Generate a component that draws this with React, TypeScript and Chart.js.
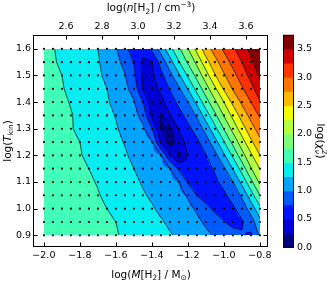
import { useEffect, useRef } from "react";
import { Chart, registerables } from "chart.js";
Chart.register(...registerables);

// grid of the fit: log M[H2] (columns) and log T_kin (rows)
const massGrid = [-2.0, -1.95, -1.9, -1.85, -1.8, -1.75, -1.7, -1.65, -1.6, -1.55, -1.5, -1.45, -1.4, -1.35, -1.3, -1.25, -1.2, -1.15, -1.1, -1.05, -1.0, -0.95, -0.9, -0.85, -0.8];
const tempGrid = [0.9, 0.95, 1.0, 1.05, 1.1, 1.15, 1.2, 1.25, 1.3, 1.35, 1.4, 1.45, 1.5, 1.55, 1.6];

// log(chi^2_nu) along each row of the grid
const chiT090 = [1.64, 1.62, 1.60, 1.59, 1.57, 1.56, 1.54, 1.52, 1.51, 1.48, 1.44, 1.39, 1.35, 1.31, 1.27, 1.21, 1.16, 1.10, 1.04, 0.98, 0.91, 0.84, 0.77, 0.70, 1.05];
const chiT095 = [1.63, 1.61, 1.60, 1.58, 1.57, 1.55, 1.53, 1.52, 1.50, 1.45, 1.41, 1.36, 1.31, 1.27, 1.21, 1.16, 1.10, 1.04, 0.97, 0.87, 0.76, 0.68, 0.72, 0.89, 1.17];
const chiT100 = [1.63, 1.61, 1.59, 1.57, 1.56, 1.54, 1.52, 1.50, 1.46, 1.41, 1.36, 1.32, 1.27, 1.21, 1.16, 1.10, 1.05, 0.97, 0.82, 0.70, 0.63, 0.71, 0.86, 1.10, 1.43];
const chiT105 = [1.62, 1.60, 1.58, 1.56, 1.55, 1.53, 1.51, 1.47, 1.42, 1.37, 1.32, 1.27, 1.22, 1.16, 1.11, 1.05, 0.98, 0.74, 0.65, 0.64, 0.71, 0.83, 1.04, 1.38, 1.75];
const chiT110 = [1.62, 1.60, 1.58, 1.56, 1.54, 1.52, 1.49, 1.44, 1.39, 1.34, 1.29, 1.23, 1.18, 1.12, 1.06, 1.00, 0.72, 0.59, 0.64, 0.71, 0.81, 0.99, 1.32, 1.68, 2.05];
const chiT115 = [1.61, 1.59, 1.57, 1.55, 1.52, 1.50, 1.45, 1.40, 1.35, 1.30, 1.25, 1.19, 1.13, 1.07, 1.01, 0.71, 0.56, 0.62, 0.69, 0.77, 0.96, 1.26, 1.60, 1.98, 2.26];
const chiT120 = [1.61, 1.58, 1.56, 1.54, 1.51, 1.47, 1.42, 1.37, 1.32, 1.27, 1.21, 1.15, 1.08, 1.02, 0.52, 0.20, 0.51, 0.62, 0.74, 0.92, 1.21, 1.54, 1.90, 2.20, 2.50];
const chiT125 = [1.60, 1.58, 1.55, 1.52, 1.50, 1.45, 1.40, 1.34, 1.29, 1.24, 1.17, 1.09, 1.02, 0.47, 0.12, 0.37, 0.58, 0.70, 0.88, 1.15, 1.48, 1.82, 2.14, 2.45, 2.69];
const chiT130 = [1.60, 1.57, 1.54, 1.51, 1.47, 1.42, 1.37, 1.32, 1.27, 1.19, 1.12, 1.04, 0.77, 0.24, 0.20, 0.53, 0.68, 0.85, 1.09, 1.43, 1.76, 2.08, 2.39, 2.65, 2.86];
const chiT135 = [1.59, 1.56, 1.53, 1.51, 1.46, 1.40, 1.35, 1.30, 1.24, 1.15, 1.07, 0.92, 0.44, 0.21, 0.49, 0.66, 0.83, 1.03, 1.37, 1.69, 2.01, 2.32, 2.60, 2.83, 3.03];
const chiT140 = [1.59, 1.56, 1.53, 1.49, 1.44, 1.38, 1.33, 1.27, 1.20, 1.11, 1.02, 0.76, 0.36, 0.42, 0.62, 0.81, 1.00, 1.31, 1.64, 1.95, 2.25, 2.56, 2.79, 3.00, 3.23];
const chiT145 = [1.58, 1.55, 1.51, 1.47, 1.41, 1.36, 1.30, 1.25, 1.15, 1.06, 0.90, 0.49, 0.37, 0.56, 0.77, 0.96, 1.26, 1.58, 1.89, 2.20, 2.53, 2.77, 2.97, 3.17, 3.41];
const chiT150 = [1.58, 1.54, 1.50, 1.44, 1.39, 1.34, 1.28, 1.21, 1.11, 1.01, 0.81, 0.45, 0.44, 0.68, 0.92, 1.21, 1.53, 1.83, 2.14, 2.48, 2.72, 2.92, 3.12, 3.33, 3.54];
const chiT155 = [1.57, 1.52, 1.47, 1.42, 1.37, 1.32, 1.27, 1.17, 1.07, 0.93, 0.73, 0.45, 0.49, 0.84, 1.15, 1.48, 1.78, 2.06, 2.41, 2.67, 2.88, 3.07, 3.25, 3.46, 3.63];
const chiT160 = [1.56, 1.51, 1.46, 1.41, 1.36, 1.30, 1.25, 1.14, 1.02, 0.81, 0.65, 0.60, 0.80, 1.10, 1.42, 1.71, 1.99, 2.33, 2.63, 2.85, 3.04, 3.21, 3.39, 3.57, 3.72];

const chiRows = [chiT090, chiT095, chiT100, chiT105, chiT110, chiT115, chiT120, chiT125, chiT130, chiT135, chiT140, chiT145, chiT150, chiT155, chiT160];

const levels = [0.0, 0.25, 0.5, 0.75, 1.0, 1.25, 1.5, 1.75, 2.0, 2.25, 2.5, 2.75, 3.0, 3.25, 3.5, 3.75];
const massTicks = [-2.0, -1.8, -1.6, -1.4, -1.2, -1.0, -0.8];
const densityTicks = [2.6, 2.8, 3.0, 3.2, 3.4, 3.6];
const tempTicks = [0.9, 1.0, 1.1, 1.2, 1.3, 1.4, 1.5, 1.6];
const chiTicks = [0.0, 0.5, 1.0, 1.5, 2.0, 2.5, 3.0, 3.5];
const densityOffset = 4.477; // log n = log M + offset

const FONT = "'DejaVu Sans', sans-serif";

const jetR = [[0, 0], [0.35, 0], [0.66, 1], [0.89, 1], [1, 0.5]];
const jetG = [[0, 0], [0.125, 0], [0.375, 1], [0.64, 1], [0.91, 0], [1, 0]];
const jetB = [[0, 0.5], [0.11, 1], [0.34, 1], [0.65, 0], [1, 0]];
function seg(pts: number[][], t: number) {
  for (let k = 0; k < pts.length - 1; k++) {
    const [x0, y0] = pts[k];
    const [x1, y1] = pts[k + 1];
    if (t >= x0 && t <= x1) return y0 + ((y1 - y0) * (t - x0)) / (x1 - x0 || 1);
  }
  return pts[pts.length - 1][1];
}
function jet(t: number): [number, number, number] {
  return [Math.round(255 * seg(jetR, t)), Math.round(255 * seg(jetG, t)), Math.round(255 * seg(jetB, t))];
}
const nBands = levels.length - 1;
const bandColors = Array.from({ length: nBands }, (_, k) => jet(k / (nBands - 1)));

function bandOf(v: number) {
  let k = 0;
  while (k < nBands - 1 && v >= levels[k + 1]) k++;
  return k;
}

function sampleField(xv: number, yv: number) {
  const nx = massGrid.length, ny = tempGrid.length;
  const fx = ((xv - massGrid[0]) / (massGrid[nx - 1] - massGrid[0])) * (nx - 1);
  const fy = ((yv - tempGrid[0]) / (tempGrid[ny - 1] - tempGrid[0])) * (ny - 1);
  let i = Math.floor(fx), j = Math.floor(fy);
  i = Math.max(0, Math.min(nx - 2, i));
  j = Math.max(0, Math.min(ny - 2, j));
  const tx = fx - i, ty = fy - j;
  const z00 = chiRows[j][i], z10 = chiRows[j][i + 1], z01 = chiRows[j + 1][i], z11 = chiRows[j + 1][i + 1];
  return (z00 * (1 - tx) + z10 * tx) * (1 - ty) + (z01 * (1 - tx) + z11 * tx) * ty;
}

type Seg = { t: string; it?: boolean; sc?: "sub" | "sup"; ov?: boolean };
function drawRich(ctx: CanvasRenderingContext2D, segs: Seg[], cx: number, cy: number, rot: number, size = 10.5) {
  const fontFor = (s: Seg) => `${s.it ? "italic " : ""}${s.sc ? size * 0.7 : size}px ${FONT}`;
  const place: { s: Seg; x: number }[] = [];
  let cur = 0, prevX = 0, prevW = 0;
  for (const s of segs) {
    ctx.font = fontFor(s);
    const w = ctx.measureText(s.t).width;
    if (s.ov) {
      place.push({ s, x: prevX });
      cur = prevX + Math.max(prevW, w);
    } else {
      place.push({ s, x: cur });
      prevX = cur;
      prevW = w;
      cur += w;
    }
  }
  ctx.save();
  ctx.translate(cx, cy);
  ctx.rotate(rot);
  ctx.fillStyle = "#000";
  ctx.textBaseline = "alphabetic";
  ctx.textAlign = "left";
  const x0 = -cur / 2;
  const base = size * 0.36;
  for (const p of place) {
    ctx.font = fontFor(p.s);
    const dy = p.s.sc === "sub" ? size * 0.25 : p.s.sc === "sup" ? -size * 0.42 : 0;
    ctx.fillText(p.s.t, x0 + p.x, base + dy);
  }
  ctx.restore();
}

const fmt = (v: number) => v.toFixed(1).replace("-", "\u2212");

const contourPlugin = {
  id: "contourFill",
  beforeDatasetsDraw(chart: any) {
    const { ctx, scales } = chart;
    const xs = scales.x, ys = scales.y;
    const nx = massGrid.length, ny = tempGrid.length;
    const px0 = Math.round(xs.getPixelForValue(massGrid[0]));
    const px1 = Math.round(xs.getPixelForValue(massGrid[nx - 1]));
    const py0 = Math.round(ys.getPixelForValue(tempGrid[ny - 1]));
    const py1 = Math.round(ys.getPixelForValue(tempGrid[0]));
    const w = px1 - px0, h = py1 - py0;
    const off = document.createElement("canvas");
    off.width = w;
    off.height = h;
    const octx = off.getContext("2d")!;
    const img = octx.createImageData(w, h);
    for (let j = 0; j < h; j++) {
      const yv = ys.getValueForPixel(py0 + j + 0.5);
      for (let i = 0; i < w; i++) {
        const xv = xs.getValueForPixel(px0 + i + 0.5);
        const c = bandColors[bandOf(sampleField(xv, yv))];
        const o = (j * w + i) * 4;
        img.data[o] = c[0];
        img.data[o + 1] = c[1];
        img.data[o + 2] = c[2];
        img.data[o + 3] = 255;
      }
    }
    octx.putImageData(img, 0, 0);
    ctx.drawImage(off, px0, py0);

    // contour lines (marching squares)
    ctx.save();
    ctx.strokeStyle = "rgba(0,0,0,0.85)";
    ctx.lineWidth = 0.8;
    ctx.beginPath();
    const P = (i: number, j: number) => [xs.getPixelForValue(massGrid[0] + (i * (massGrid[nx - 1] - massGrid[0])) / (nx - 1)), ys.getPixelForValue(tempGrid[0] + (j * (tempGrid[ny - 1] - tempGrid[0])) / (ny - 1))];
    for (let L = 1; L < levels.length - 1; L++) {
      const lv = levels[L];
      for (let j = 0; j < ny - 1; j++) {
        for (let i = 0; i < nx - 1; i++) {
          const za = chiRows[j][i], zb = chiRows[j][i + 1], zc = chiRows[j + 1][i + 1], zd = chiRows[j + 1][i];
          const sa = za >= lv, sb = zb >= lv, sc = zc >= lv, sd = zd >= lv;
          const cut = (z1: number, z2: number, i1: number, j1: number, i2: number, j2: number) => {
            const t = (lv - z1) / (z2 - z1);
            return P(i1 + (i2 - i1) * t, j1 + (j2 - j1) * t);
          };
          const eAB = sa !== sb ? cut(za, zb, i, j, i + 1, j) : null;
          const eBC = sb !== sc ? cut(zb, zc, i + 1, j, i + 1, j + 1) : null;
          const eCD = sc !== sd ? cut(zc, zd, i + 1, j + 1, i, j + 1) : null;
          const eDA = sd !== sa ? cut(zd, za, i, j + 1, i, j) : null;
          const pts = [eAB, eBC, eCD, eDA].filter(Boolean) as number[][];
          const line = (p: number[], q: number[]) => {
            ctx.moveTo(p[0], p[1]);
            ctx.lineTo(q[0], q[1]);
          };
          if (pts.length === 2) line(pts[0], pts[1]);
          else if (pts.length === 4) {
            const center = (za + zb + zc + zd) / 4 >= lv;
            if (sa !== center) {
              line(eDA!, eAB!);
              line(eBC!, eCD!);
            } else {
              line(eAB!, eBC!);
              line(eCD!, eDA!);
            }
          }
        }
      }
    }
    ctx.stroke();
    ctx.restore();
  },
  afterDraw(chart: any) {
    const { ctx, chartArea: ca, scales } = chart;
    const xs = scales.x, ys = scales.y, x2 = scales.x2, cb = scales.cb;
    ctx.save();
    ctx.strokeStyle = "#000";
    ctx.lineWidth = 1;
    const L = Math.round(ca.left) - 0.5, R = Math.round(ca.right) - 0.5;
    const T = Math.round(ca.top) + 0.5, B = Math.round(ca.bottom) - 0.5;
    ctx.strokeRect(L, T, R - L, B - T);
    ctx.beginPath();
    const tl = 4;
    for (const v of massTicks) {
      const p = Math.round(xs.getPixelForValue(v)) + 0.5;
      ctx.moveTo(p, B);
      ctx.lineTo(p, B - tl);
    }
    for (const v of densityTicks) {
      const p = Math.round(x2.getPixelForValue(v)) + 0.5;
      ctx.moveTo(p, T);
      ctx.lineTo(p, T + tl);
    }
    for (const v of tempTicks) {
      const p = Math.round(ys.getPixelForValue(v)) + 0.5;
      ctx.moveTo(L, p);
      ctx.lineTo(L + tl, p);
      ctx.moveTo(R, p);
      ctx.lineTo(R - tl, p);
    }
    ctx.stroke();

    // colour bar
    const cbL = Math.round(ca.right) + 15, cbW = 11;
    for (let k = 0; k < nBands; k++) {
      const y0 = cb.getPixelForValue(levels[k]);
      const y1 = cb.getPixelForValue(levels[k + 1]);
      const c = bandColors[k];
      ctx.fillStyle = `rgb(${c[0]},${c[1]},${c[2]})`;
      ctx.fillRect(cbL, y1, cbW, y0 - y1 + 0.5);
    }
    ctx.lineWidth = 1;
    ctx.strokeRect(cbL + 0.5, Math.round(cb.getPixelForValue(levels[nBands])) + 0.5, cbW - 1, Math.round(cb.getPixelForValue(levels[0]) - cb.getPixelForValue(levels[nBands])) - 1);
    ctx.restore();

    const midY = (ca.top + ca.bottom) / 2;
    const midX = (ca.left + ca.right) / 2;
    drawRich(ctx, [{ t: "log(" }, { t: "M", it: true }, { t: "[H" }, { t: "2", sc: "sub" }, { t: "] / M" }, { t: "\u2299", sc: "sub" }, { t: ")" }], midX, 274, 0);
    drawRich(ctx, [{ t: "log(" }, { t: "n", it: true }, { t: "[H" }, { t: "2", sc: "sub" }, { t: "] / cm" }, { t: "\u22123", sc: "sup" }, { t: ")" }], midX, 7.5, 0);
    drawRich(ctx, [{ t: "log(" }, { t: "T", it: true }, { t: "kin", sc: "sub" }, { t: ")" }], 7, midY, -Math.PI / 2);
    drawRich(ctx, [{ t: "log(" }, { t: "\u03c7", it: true }, { t: "\u03bd", it: true, sc: "sub" }, { t: "2", sc: "sup", ov: true }, { t: ")" }], 321, midY, Math.PI / 2);
  },
};

const tickFont = { family: FONT, size: 9.5 };
const fixedTicks = (vals: number[]) => (axis: any) => {
  axis.ticks = vals.map((v) => ({ value: v }));
};

export default function App() {
  const ref = useRef<HTMLCanvasElement>(null);
  useEffect(() => {
    document.body.style.margin = "0";
    const points = tempGrid.flatMap((t) => massGrid.map((m) => ({ x: m, y: t })));
    const chart = new Chart(ref.current!, {
      type: "scatter",
      data: {
        datasets: [
          {
            data: points,
            pointRadius: 1.1,
            pointBackgroundColor: "#000",
            pointBorderWidth: 0,
            showLine: false,
          },
        ],
      },
      options: {
        responsive: false,
        animation: false,
        events: [],
        layout: { padding: 0 },
        plugins: { legend: { display: false }, tooltip: { enabled: false } },
        scales: {
          x: {
            type: "linear",
            position: "bottom",
            min: -2.055,
            max: -0.755,
            afterBuildTicks: fixedTicks(massTicks),
            afterFit: (s: any) => {
              s.height = 29;
            },
            ticks: { callback: (v: any) => fmt(Number(v)), font: tickFont, color: "#000", padding: 3, maxRotation: 0, minRotation: 0, autoSkip: false },
            grid: { display: false, drawTicks: false },
            border: { display: false },
          },
          x2: {
            type: "linear",
            position: "top",
            min: -2.055 + densityOffset,
            max: -0.755 + densityOffset,
            afterBuildTicks: fixedTicks(densityTicks),
            afterFit: (s: any) => {
              s.height = 27;
            },
            ticks: { callback: (v: any) => fmt(Number(v)), font: tickFont, color: "#000", padding: 2, maxRotation: 0, minRotation: 0, autoSkip: false },
            grid: { display: false, drawTicks: false },
            border: { display: false },
          },
          y: {
            type: "linear",
            position: "left",
            min: 0.855,
            max: 1.653,
            afterBuildTicks: fixedTicks(tempTicks),
            afterFit: (s: any) => {
              s.width = 34;
            },
            ticks: { callback: (v: any) => fmt(Number(v)), font: tickFont, color: "#000", padding: 3, autoSkip: false },
            grid: { display: false, drawTicks: false },
            border: { display: false },
          },
          cb: {
            type: "linear",
            position: "right",
            min: 0,
            max: 3.75,
            afterBuildTicks: fixedTicks(chiTicks),
            afterFit: (s: any) => {
              s.width = 59;
            },
            ticks: { callback: (v: any) => fmt(Number(v)), font: tickFont, color: "#000", padding: 29, autoSkip: false },
            grid: { display: false, drawTicks: false },
            border: { display: false },
          },
        },
      },
      plugins: [contourPlugin],
    });
    return () => chart.destroy();
  }, []);
  return <canvas ref={ref} width={327} height={282} style={{ display: "block" }} />;
}
